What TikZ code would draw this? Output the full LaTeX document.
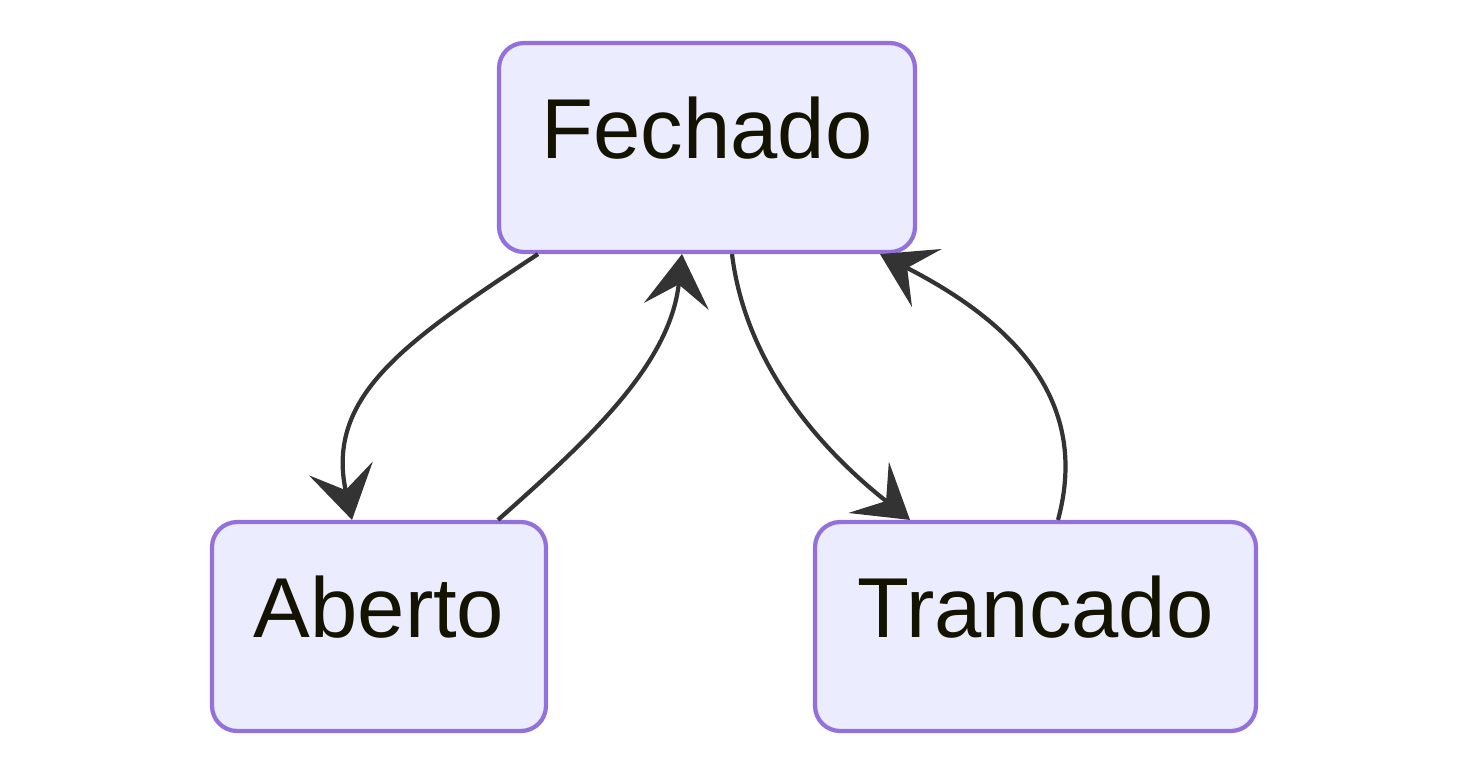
\documentclass[tikz,border=0pt]{standalone}
\usepackage{fontspec}
\setmainfont{Liberation Sans}
\usepackage{xcolor}
\usetikzlibrary{arrows.meta, positioning, calc}
\definecolor{stFill}{HTML}{ECECFF}
\definecolor{stLine}{HTML}{9370DB}
\definecolor{edLine}{HTML}{333333}
\definecolor{stText}{HTML}{131300}
\tikzset{
  stbox/.style = {rectangle, draw=stLine, fill=stFill, line width=2.4pt,
                  rounded corners=0.5cm, minimum height=4.18cm, inner sep=0pt,
                  text=stText, font=\fontsize{48.4}{58}\selectfont,
                  text height=1.22cm, text depth=0.78cm},
  arrow/.style = {draw=edLine, line width=2.4pt,
                  -{Stealth[length=1.05cm, width=1.3cm, inset=0.44cm]}},
}
\begin{document}
\begin{tikzpicture}[x=0.02cm, y=-0.02cm]
    \useasboundingbox (0,0) rectangle (1468,775);

    %% States
    \node[stbox, minimum width=8.32cm] (fech) at (707,147.5)    {Fechado};
    \node[stbox, minimum width=6.68cm] (aber) at (379,626.5)    {Aberto};
    \node[stbox, minimum width=8.82cm] (tran) at (1035.5,626.5) {Trancado};

    %% Transitions
    \draw[arrow] ($(fech.south)+(-169,0)$) .. controls (408,340) and (325,395)
                 .. ($(aber.north)+(-27,0)$);
    \draw[arrow] ($(aber.north)+(119,0)$) .. controls (588,440) and (670,365)
                 .. ($(fech.south)+(-25,0)$);
    \draw[arrow] ($(fech.south)+(25,0)$) .. controls (745,360) and (815,445)
                 .. ($(tran.north)+(-125.5,0)$);
    \draw[arrow] ($(tran.north)+(22.5,0)$) .. controls (1092,395) and (1005,318)
                 .. ($(fech.south)+(173,0)$);

\end{tikzpicture}
\end{document}
